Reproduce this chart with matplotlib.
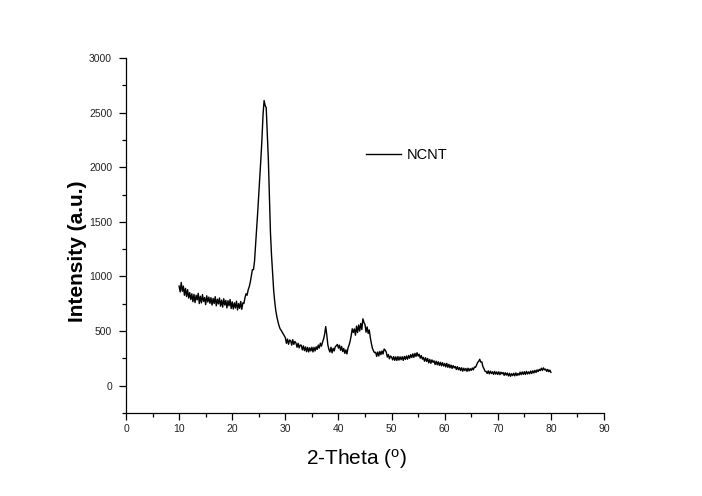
import matplotlib
matplotlib.use('Agg')
import matplotlib.pyplot as plt
from matplotlib.ticker import MultipleLocator
import numpy as np

plt.rcParams['font.family'] = ['Liberation Sans', 'DejaVu Sans']

# XRD scan, 10-80 deg, step 0.2
two_theta = np.round(np.linspace(10, 80, 351), 1)
intensity = [
    912, 858, 945, 864, 912,    # 10
    828, 891, 816, 879, 802,    # 11
    852, 788, 841, 769, 836,    # 12
    761, 828, 785, 846, 752,    # 13
    819, 758, 834, 771, 807,    # 14
    742, 823, 766, 811, 754,    # 15
    806, 738, 799, 752, 815,    # 16
    731, 792, 749, 803, 728,    # 17
    784, 719, 796, 738, 781,    # 18
    712, 778, 731, 789, 706,    # 19
    768, 702, 759, 711, 774,    # 20
    693, 752, 708, 771, 699,    # 21
    758, 752, 805, 842, 828,    # 22
    878, 905, 948, 1005, 1062,  # 23
    1062, 1140, 1285, 1425, 1590,  # 24
    1750, 1900, 2080, 2260, 2480,  # 25
    2610, 2565, 2545, 2310, 2075,  # 26
    1745, 1400, 1195, 1040, 875,   # 27
    770, 688, 632, 588, 551,    # 28
    522, 508, 491, 472, 458,    # 29
    440, 388, 427, 379, 418,    # 30
    412, 371, 421, 378, 405,    # 31
    391, 352, 388, 346, 372,    # 32
    371, 328, 364, 321, 355,    # 33
    311, 351, 309, 347, 318,    # 34
    352, 309, 351, 318, 356,    # 35
    332, 372, 345, 389, 362,    # 36
    398, 426, 472, 541, 468,    # 37
    375, 332, 308, 352, 301,    # 38
    342, 318, 356, 366, 378,    # 39
    344, 371, 324, 359, 312,    # 40
    341, 296, 328, 291, 345,    # 41
    372, 408, 458, 521, 487,    # 42
    520, 462, 545, 486, 556,    # 43
    500, 570, 514, 612, 580,    # 44
    560, 490, 538, 478, 510,    # 45
    441, 386, 342, 318, 302,    # 46
    306, 268, 309, 272, 314,    # 47
    284, 318, 290, 336, 326,    # 48
    308, 262, 285, 246, 272,    # 49
    262, 236, 266, 232, 264,    # 50
    231, 266, 234, 264, 238,    # 51
    265, 232, 268, 241, 272,    # 52
    242, 276, 251, 284, 258,    # 53
    292, 259, 296, 268, 302,    # 54
    271, 288, 252, 276, 243,    # 55
    259, 224, 256, 222, 249,    # 56
    209, 240, 205, 236, 214,    # 57
    228, 194, 224, 191, 219,    # 58
    186, 214, 182, 211, 180,    # 59
    203, 172, 205, 168, 196,    # 60
    164, 189, 158, 184, 163,    # 61
    176, 148, 174, 146, 166,    # 62
    139, 164, 133, 160, 138,    # 63
    158, 131, 160, 135, 156,    # 64
    140, 162, 145, 171, 168,    # 65
    188, 212, 222, 242, 216,    # 66
    218, 175, 155, 132, 130,    # 67
    112, 136, 108, 133, 111,    # 68
    128, 104, 131, 106, 126,    # 69
    103, 127, 101, 124, 108,    # 70
    121, 95, 119, 97, 116,      # 71
    89, 113, 86, 110, 92,       # 72
    114, 90, 117, 93, 112,      # 73
    97, 124, 101, 126, 104,     # 74
    128, 103, 131, 107, 127,    # 75
    109, 134, 112, 136, 117,    # 76
    140, 121, 145, 129, 150,    # 77
    138, 160, 140, 163, 145,    # 78
    152, 131, 149, 128, 143,    # 79
    122,                        # 80
]
series_name = 'NCNT'

my_dpi = 100
fig = plt.figure(figsize=(702/my_dpi, 496/my_dpi), dpi=my_dpi)
ax = fig.add_axes([126/702, 1-413/496, (604-126)/702, (413-58)/496])

ax.plot(two_theta, intensity, color='black', lw=1.0, label=series_name)

ax.set_xlim(0, 90)
ax.set_ylim(-250, 3000)
ax.xaxis.set_major_locator(MultipleLocator(10))
ax.xaxis.set_minor_locator(MultipleLocator(5))
ax.yaxis.set_major_locator(MultipleLocator(500))
ax.yaxis.set_minor_locator(MultipleLocator(250))

for s in ['top', 'right']:
    ax.spines[s].set_visible(False)
for s in ['left', 'bottom']:
    ax.spines[s].set_linewidth(0.9)

ax.tick_params(which='major', direction='out', length=5, width=0.9,
               labelsize=7.5, colors='black', labelcolor='#222222')
ax.tick_params(which='minor', direction='out', length=3, width=0.9)
ax.tick_params(axis='x', pad=3)
ax.tick_params(axis='y', pad=5)

ax.set_xlabel('2-Theta ($\\mathregular{^o}$)', fontsize=15)
ax.set_ylabel('Intensity (a.u.)', fontsize=15, fontweight='bold')
ax.xaxis.set_label_coords(0.483, -0.095)
ax.yaxis.set_label_coords(-0.082, 0.456)

ax.legend(loc='center left', bbox_to_anchor=(366/702, 1-155/496),
          bbox_transform=fig.transFigure, frameon=False, fontsize=10.5,
          handlelength=2.4, handletextpad=0.4, borderpad=0, borderaxespad=0)

plt.savefig('out.png', dpi=my_dpi)
